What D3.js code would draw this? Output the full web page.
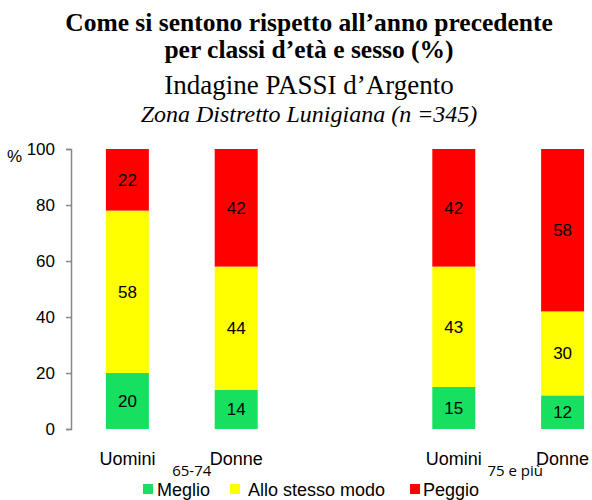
<!DOCTYPE html>
<html>
<head>
<meta charset="utf-8">
<script src="https://cdn.jsdelivr.net/npm/d3@7"></script>
<style>
  body { margin: 0; background: #fff; }
  text { font-family: "Liberation Sans", Arial, sans-serif; }
  .title { font-family: "Liberation Serif", "Times New Roman", serif; }
</style>
</head>
<body>
<svg id="chart"></svg>
<script>
// data
const categories = ["Uomini", "Donne", "", "Uomini ", "Donne "]
const groups = ["65-74", "75 e più"]
const series = ["Meglio", "Allo stesso modo", "Peggio"]
const colors = ["#17e060", "#ffff00", "#ff0000"]
const meglio = [20, 14, null, 15, 12]
const stesso = [58, 44, null, 43, 30]
const peggio = [22, 42, null, 42, 58]
const yTicks = [0, 20, 40, 60, 80, 100]

let svg = d3.select("#chart").attr("width", 592).attr("height", 500)

function translate(x, y){
    return "translate(" + x + ", " + y + ")"
}

// titles
const titles = [
    {t: "Come si sentono rispetto all\u2019anno precedente", y: 31, size: 25.5, weight: "bold", style: "normal"},
    {t: "per classi d\u2019et\u00e0 e sesso (%)", y: 58, size: 25.5, weight: "bold", style: "normal"},
    {t: "Indagine PASSI d\u2019Argento", y: 94, size: 27, weight: "normal", style: "normal"},
    {t: "Zona Distretto Lunigiana (n =345)", y: 122, size: 24, weight: "normal", style: "italic"}
]
svg.selectAll("text.title").data(titles).enter().append("text")
    .attr("class", "title")
    .attr("x", 309).attr("y", d => d.y)
    .attr("text-anchor", "middle")
    .style("font-size", d => d.size + "px")
    .style("font-weight", d => d.weight)
    .style("font-style", d => d.style)
    .text(d => d.t)

let x0 = 73, x1 = 617, yTop = 149, yBottom = 429

let x = d3.scaleBand().domain(categories).range([x0, x1]).paddingInner(0.605).paddingOuter(0.3025),
    y = d3.scaleLinear().domain([0, 100]).range([yBottom, yTop])

let rows = categories.map((c, i) => ({cat: c, Meglio: meglio[i], "Allo stesso modo": stesso[i], Peggio: peggio[i]}))
    .filter(d => d.Meglio != null)
let stacked = d3.stack().keys(series)(rows)

let g = svg.append("g")
stacked.forEach((layer, li) => {
    g.selectAll(null).data(layer).enter().append("rect")
        .attr("x", d => x(d.data.cat))
        .attr("width", x.bandwidth())
        .attr("y", d => y(d[1]))
        .attr("height", d => y(d[0]) - y(d[1]))
        .style("fill", colors[li])
    g.selectAll(null).data(layer).enter().append("text")
        .attr("x", d => x(d.data.cat) + x.bandwidth() / 2)
        .attr("y", d => (y(d[0]) + y(d[1])) / 2 + 6)
        .attr("text-anchor", "middle")
        .style("font-size", "17px")
        .text(d => d.data[layer.key])
})

// y axis
let yAxis = d3.axisLeft(y).tickValues(yTicks).tickSize(5).tickPadding(11)
let ya = svg.append("g").attr("transform", translate(71, 0)).call(yAxis)
ya.select(".domain").attr("stroke", "#888").attr("stroke-width", 1.5)
ya.selectAll(".tick line").attr("stroke", "#888").attr("stroke-width", 1.5)
ya.selectAll(".tick text").style("font-size", "17px").style("font-family", "Liberation Sans, Arial, sans-serif").attr("fill", "#000")
svg.append("text").attr("x", 7).attr("y", 162).style("font-size", "17px").text("%")

// category labels
svg.selectAll("text.cat").data(categories.filter(c => c !== "")).enter().append("text")
    .attr("class", "cat")
    .attr("x", d => x(d) + x.bandwidth() / 2)
    .attr("y", 465)
    .attr("text-anchor", "middle")
    .style("font-size", "18px")
    .text(d => d.trim())

// group labels
let groupCenters = [
    (x(categories[0]) + x(categories[1]) + x.bandwidth()) / 2 + 10,
    (x(categories[3]) + x(categories[4]) + x.bandwidth()) / 2 + 7
]
svg.selectAll("text.grp").data(groups).enter().append("text")
    .attr("class", "grp")
    .attr("x", (d, i) => groupCenters[i])
    .attr("y", 476)
    .attr("text-anchor", "middle")
    .style("font-family", "'Open Sans', sans-serif")
    .style("font-size", "15px")
    .text(d => d)

// legend
let legendX = [143, 230, 410],
    textX = [157, 248, 423]
let lg = svg.append("g")
lg.selectAll("rect").data(series).enter().append("rect")
    .attr("x", (d, i) => legendX[i]).attr("y", 484)
    .attr("width", 10).attr("height", 10)
    .style("fill", (d, i) => colors[i])
lg.selectAll("text").data(series).enter().append("text")
    .attr("x", (d, i) => textX[i]).attr("y", 496)
    .style("font-size", "18px")
    .text(d => d)
</script>
</body>
</html>
